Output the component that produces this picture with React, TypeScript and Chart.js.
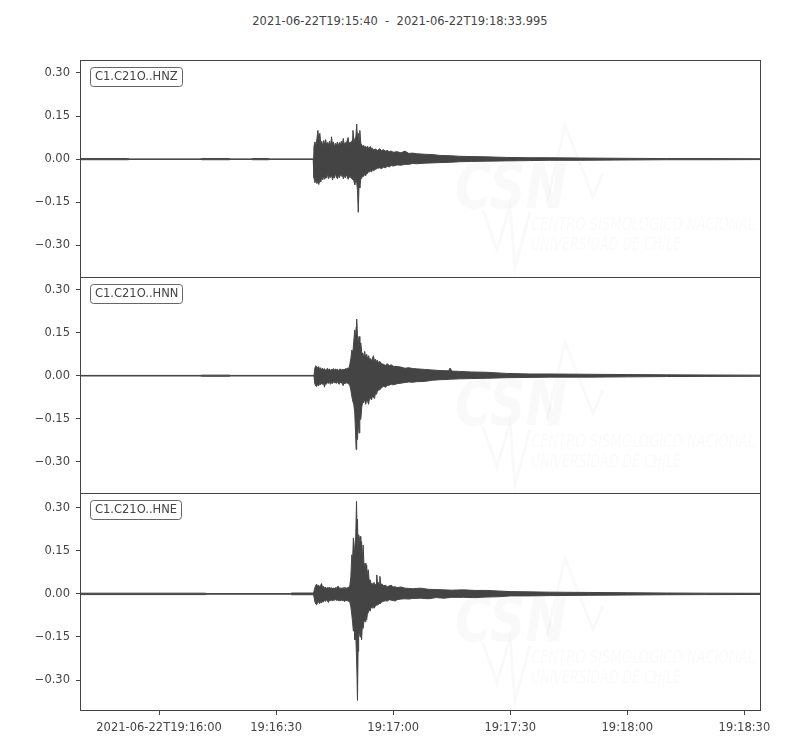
import React, { useEffect, useRef } from 'react';
import { Chart, registerables } from 'chart.js';

Chart.register(...registerables);

// ---------------- data ----------------
const TITLE = '2021-06-22T19:15:40  -  2021-06-22T19:18:33.995';
const CHANNELS = ['C1.C21O..HNZ', 'C1.C21O..HNN', 'C1.C21O..HNE'];
// time axis: seconds after 2021-06-22T19:15:40
const T_START = 0;
const T_END = 173.995;
const X_TICKS = [20, 50, 80, 110, 140, 170];
const X_TICK_LABELS = ['2021-06-22T19:16:00', '19:16:30', '19:17:00', '19:17:30', '19:18:00', '19:18:30'];
const Y_TICKS = [-0.3, -0.15, 0, 0.15, 0.3];
const Y_TICK_LABELS = ['\u22120.30', '\u22120.15', '0.00', '0.15', '0.30'];
// each trace keeps the same range, centred on its own data
const Y_MINS = [-0.41, -0.41, -0.404];
const Y_MAXS = [0.345, 0.345, 0.351];

// envelope of each trace: [time s, max, min]
const HNZ: [number, number, number][] = [
  [0, 0.002, -0.002], [12, 0.002, -0.002], [12.5, 0.0008, -0.0008], [30.5, 0.0008, -0.0008], [31, 0.002, -0.002],
  [38, 0.002, -0.002], [38.5, 0.0008, -0.0008], [43.5, 0.0008, -0.0008], [44, 0.002, -0.002], [48, 0.002, -0.002],
  [48.5, 0.0008, -0.0008], [59.5, 0.0008, -0.0008],
  [59.7, 0.045, -0.065], [59.95, 0.06, -0.082], [60.2, 0.048, -0.07], [60.45, 0.07, -0.085], [60.7, 0.1, -0.078],
  [60.95, 0.065, -0.088], [61.2, 0.09, -0.07], [61.45, 0.055, -0.08], [61.7, 0.062, -0.06], [61.95, 0.045, -0.072],
  [62.2, 0.065, -0.058], [62.45, 0.05, -0.07], [62.7, 0.068, -0.062], [62.95, 0.048, -0.066], [63.2, 0.058, -0.052],
  [63.45, 0.05, -0.068], [63.7, 0.062, -0.058], [63.95, 0.045, -0.064], [64.2, 0.078, -0.055], [64.45, 0.05, -0.072],
  [64.7, 0.06, -0.06], [64.95, 0.042, -0.066], [65.2, 0.055, -0.05], [65.45, 0.048, -0.062], [65.7, 0.06, -0.068],
  [65.95, 0.045, -0.055], [66.2, 0.058, -0.065], [66.45, 0.05, -0.052], [66.7, 0.062, -0.06], [66.95, 0.048, -0.05],
  [67.2, 0.072, -0.068], [67.45, 0.05, -0.056], [67.7, 0.058, -0.065], [67.95, 0.052, -0.055], [68.2, 0.065, -0.06],
  [68.45, 0.075, -0.07], [68.7, 0.05, -0.058], [68.95, 0.06, -0.065], [69.2, 0.055, -0.06], [69.45, 0.065, -0.07],
  [69.7, 0.1, -0.062], [69.95, 0.06, -0.078], [70.2, 0.07, -0.09], [70.45, 0.08, -0.07], [70.65, 0.122, -0.08],
  [70.85, 0.07, -0.11], [71.05, 0.09, -0.185], [71.25, 0.06, -0.09], [71.45, 0.1, -0.1], [71.7, 0.055, -0.07],
  [71.95, 0.05, -0.065], [72.2, 0.042, -0.058], [72.45, 0.048, -0.06], [72.7, 0.04, -0.05], [72.95, 0.045, -0.058],
  [73.2, 0.038, -0.048], [73.45, 0.045, -0.05], [73.7, 0.036, -0.042], [73.95, 0.042, -0.045], [74.2, 0.044, -0.04],
  [74.45, 0.035, -0.045], [74.7, 0.038, -0.036], [74.95, 0.032, -0.04], [75.5, 0.035, -0.035], [76, 0.03, -0.032],
  [76.5, 0.036, -0.03], [77, 0.03, -0.033], [77.5, 0.033, -0.028], [78, 0.028, -0.03], [78.5, 0.03, -0.025],
  [79, 0.026, -0.027], [79.5, 0.028, -0.022], [80, 0.024, -0.024], [81, 0.026, -0.02], [82, 0.022, -0.021],
  [83, 0.028, -0.018], [84, 0.02, -0.018], [85, 0.021, -0.015], [86, 0.019, -0.016], [88, 0.017, -0.014],
  [90, 0.016, -0.013], [92, 0.013, -0.012], [94.6, 0.012, -0.011], [97, 0.01, -0.009], [100, 0.009, -0.008],
  [104, 0.008, -0.007], [109, 0.006, -0.006], [115, 0.005, -0.005], [120, 0.005, -0.004], [128, 0.004, -0.004],
  [138, 0.003, -0.003], [150, 0.002, -0.002], [162, 0.002, -0.002], [174, 0.0015, -0.0015],
];

const HNN: [number, number, number][] = [
  [0, 0.001, -0.001], [30.5, 0.001, -0.001], [31, 0.002, -0.002], [38, 0.002, -0.002], [38.5, 0.001, -0.001],
  [59.7, 0.001, -0.001],
  [59.9, 0.025, -0.028], [60.15, 0.035, -0.035], [60.4, 0.03, -0.038], [60.65, 0.028, -0.03], [60.9, 0.032, -0.035],
  [61.15, 0.022, -0.028], [61.4, 0.028, -0.032], [61.65, 0.02, -0.026], [61.9, 0.026, -0.03], [62.15, 0.02, -0.028],
  [62.4, 0.025, -0.04], [62.65, 0.018, -0.026], [62.9, 0.022, -0.03], [63.15, 0.026, -0.022], [63.4, 0.019, -0.027],
  [63.65, 0.024, -0.02], [63.9, 0.018, -0.03], [64.15, 0.022, -0.024], [64.4, 0.02, -0.028], [64.65, 0.025, -0.021],
  [64.9, 0.018, -0.025], [65.15, 0.024, -0.022], [65.4, 0.02, -0.027], [65.65, 0.023, -0.02], [65.9, 0.018, -0.026],
  [66.15, 0.021, -0.03], [66.4, 0.024, -0.022], [66.65, 0.019, -0.026], [66.9, 0.022, -0.024], [67.15, 0.02, -0.035],
  [67.4, 0.023, -0.025], [67.65, 0.02, -0.028], [67.9, 0.026, -0.022], [68.15, 0.022, -0.027], [68.4, 0.028, -0.025],
  [68.65, 0.025, -0.03], [68.9, 0.04, -0.035], [69.15, 0.06, -0.05], [69.4, 0.09, -0.072], [69.65, 0.08, -0.09],
  [69.9, 0.12, -0.1], [70.15, 0.16, -0.13], [70.35, 0.13, -0.2], [70.5, 0.17, -0.258], [70.65, 0.198, -0.18],
  [70.85, 0.14, -0.223], [71.05, 0.11, -0.16], [71.25, 0.137, -0.2], [71.45, 0.1, -0.15], [71.7, 0.115, -0.153],
  [71.95, 0.08, -0.11], [72.2, 0.079, -0.09], [72.45, 0.065, -0.095], [72.7, 0.085, -0.08], [72.95, 0.06, -0.1],
  [73.2, 0.075, -0.085], [73.45, 0.058, -0.09], [73.7, 0.07, -0.1], [73.95, 0.055, -0.075], [74.2, 0.06, -0.08],
  [74.45, 0.05, -0.085], [74.7, 0.062, -0.07], [74.95, 0.07, -0.075], [75.2, 0.05, -0.08], [75.45, 0.058, -0.062],
  [75.7, 0.048, -0.065], [75.95, 0.055, -0.055], [76.2, 0.045, -0.05], [76.6, 0.05, -0.049], [77, 0.042, -0.042],
  [77.5, 0.04, -0.037], [78, 0.036, -0.04], [78.5, 0.042, -0.034], [79, 0.035, -0.033], [79.5, 0.038, -0.03],
  [80, 0.033, -0.032], [81, 0.032, -0.028], [82, 0.03, -0.026], [83, 0.026, -0.024], [84, 0.028, -0.022],
  [85, 0.025, -0.023], [86, 0.024, -0.021], [88, 0.022, -0.02], [90, 0.02, -0.016], [92, 0.018, -0.014],
  [94.2, 0.017, -0.013], [94.6, 0.027, -0.012], [95, 0.016, -0.012], [97, 0.015, -0.011], [100, 0.013, -0.01],
  [104, 0.012, -0.009], [109, 0.008, -0.007], [115, 0.006, -0.006], [120, 0.006, -0.005], [130, 0.005, -0.005],
  [140, 0.004, -0.004], [150, 0.003, -0.003], [160, 0.0025, -0.0025], [174, 0.002, -0.002],
];

const HNE: [number, number, number][] = [
  [0, 0.0025, -0.0025], [31.8, 0.0025, -0.0025], [32.3, 0.001, -0.001], [53.6, 0.001, -0.001], [54, 0.003, -0.003],
  [59.6, 0.003, -0.003],
  [59.9, 0.02, -0.025], [60.15, 0.03, -0.035], [60.4, 0.034, -0.038], [60.65, 0.025, -0.03], [60.9, 0.03, -0.028],
  [61.15, 0.026, -0.034], [61.4, 0.03, -0.026], [61.65, 0.036, -0.032], [61.9, 0.022, -0.025], [62.15, 0.026, -0.028],
  [62.4, 0.02, -0.022], [62.65, 0.024, -0.026], [62.9, 0.018, -0.02], [63.15, 0.022, -0.025], [63.4, 0.02, -0.03],
  [63.65, 0.024, -0.022], [63.9, 0.017, -0.024], [64.15, 0.022, -0.02], [64.4, 0.018, -0.025], [64.65, 0.021, -0.021],
  [64.9, 0.017, -0.023], [65.15, 0.022, -0.019], [65.4, 0.019, -0.023], [65.65, 0.024, -0.02], [65.9, 0.027, -0.024],
  [66.15, 0.019, -0.021], [66.4, 0.022, -0.025], [66.65, 0.018, -0.02], [66.9, 0.021, -0.024], [67.15, 0.019, -0.022],
  [67.4, 0.023, -0.026], [67.65, 0.018, -0.02], [67.9, 0.021, -0.024], [68.15, 0.019, -0.022], [68.4, 0.023, -0.026],
  [68.65, 0.022, -0.025], [68.9, 0.03, -0.03], [69.15, 0.06, -0.045], [69.4, 0.136, -0.073], [69.6, 0.12, -0.1],
  [69.8, 0.194, -0.13], [70, 0.15, -0.11], [70.2, 0.17, -0.16], [70.4, 0.2, -0.14], [70.6, 0.322, -0.22],
  [70.75, 0.22, -0.3], [70.85, 0.26, -0.37], [71, 0.15, -0.2], [71.15, 0.206, -0.143], [71.35, 0.16, -0.13],
  [71.5, 0.2, -0.15], [71.7, 0.14, -0.12], [71.9, 0.182, -0.16], [72.1, 0.12, -0.11], [72.3, 0.17, -0.12],
  [72.55, 0.09, -0.09], [72.8, 0.107, -0.097], [73, 0.07, -0.075], [73.2, 0.1, -0.09], [73.4, 0.06, -0.07],
  [73.6, 0.084, -0.065], [73.85, 0.045, -0.055], [74.1, 0.049, -0.06], [74.35, 0.035, -0.045], [74.6, 0.037, -0.05],
  [74.85, 0.03, -0.04], [75.1, 0.04, -0.05], [75.35, 0.03, -0.045], [75.6, 0.035, -0.035], [75.8, 0.066, -0.04],
  [76, 0.03, -0.032], [76.2, 0.04, -0.038], [76.4, 0.03, -0.03], [76.6, 0.061, -0.035], [76.85, 0.03, -0.03],
  [77.1, 0.035, -0.028], [77.5, 0.028, -0.026], [78, 0.03, -0.024], [78.5, 0.025, -0.025], [79, 0.028, -0.02],
  [79.5, 0.03, -0.022], [80, 0.024, -0.023], [80.5, 0.025, -0.025], [81, 0.022, -0.02], [82, 0.024, -0.018],
  [83, 0.02, -0.017], [84, 0.019, -0.018], [85, 0.018, -0.016], [87, 0.02, -0.015], [89, 0.016, -0.017],
  [91, 0.015, -0.013], [93, 0.014, -0.015], [95, 0.013, -0.012], [98, 0.014, -0.012], [101, 0.012, -0.013],
  [104, 0.012, -0.011], [107, 0.01, -0.01], [110, 0.008, -0.007], [115, 0.007, -0.007], [120, 0.006, -0.006],
  [130, 0.005, -0.005], [140, 0.004, -0.004], [150, 0.003, -0.003], [160, 0.0025, -0.0025], [174, 0.002, -0.002],
];

const SERIES = [
  { label: CHANNELS[0], rows: HNZ },
  { label: CHANNELS[1], rows: HNN },
  { label: CHANNELS[2], rows: HNE },
];

// ---------------- style ----------------
const FONT = "'DejaVu Sans', sans-serif";
const WAVE = '#444444';
const AXIS = '#444444';
const TEXT = '#444444';
const PANEL_TOPS = [60, 277, 493];
const PANEL_BOTTOMS = [277, 493, 710];
const PAD = 20;

const decorPlugin = {
  id: 'panelDecor',
  beforeDatasetsDraw(chart: any) {
    const { ctx, chartArea } = chart;
    const { left, top } = chartArea;
    ctx.save();
    ctx.beginPath();
    ctx.rect(chartArea.left, chartArea.top, chartArea.right - chartArea.left, chartArea.bottom - chartArea.top);
    ctx.clip();
    const faint = 'rgba(0,0,0,0.022)';
    ctx.fillStyle = faint;
    ctx.strokeStyle = faint;
    const drawFit = (txt: string, x: number, y: number, w: number) => {
      const m = ctx.measureText(txt).width;
      ctx.save();
      ctx.translate(x, y);
      ctx.scale(w / m, 1);
      ctx.fillText(txt, 0, 0);
      ctx.restore();
    };
    ctx.textBaseline = 'alphabetic';
    ctx.font = `italic bold 62px ${FONT}`;
    drawFit('CSN', left + 374, top + 148, 112);
    ctx.font = `italic 18px ${FONT}`;
    drawFit('CENTRO SISMOLÓGICO NACIONAL', left + 450, top + 170, 224);
    drawFit('UNIVERSIDAD DE CHILE', left + 450, top + 190, 150);
    ctx.lineWidth = 3;
    ctx.beginPath();
    const p1 = [[466, 143], [484, 65], [512, 137], [522, 113]];
    p1.forEach(([x, y], i) => (i ? ctx.lineTo(left + x, top + y) : ctx.moveTo(left + x, top + y)));
    ctx.stroke();
    ctx.beginPath();
    const p2 = [[402, 150], [416, 190], [429, 145], [434, 208], [449, 152]];
    p2.forEach(([x, y], i) => (i ? ctx.lineTo(left + x, top + y) : ctx.moveTo(left + x, top + y)));
    ctx.stroke();
    ctx.restore();
  },
  afterDraw(chart: any, _args: any, opts: any) {
    const { ctx, chartArea } = chart;
    const { left, top, right, bottom } = chartArea;
    const L = Math.round(left);
    const T = Math.round(top);
    const R = Math.round(right);
    const B = Math.round(bottom);
    ctx.save();
    ctx.strokeStyle = AXIS;
    ctx.lineWidth = 1;
    ctx.strokeRect(L - 0.5, T + 0.5, R - L + 1, B - T);
    // channel label box
    ctx.font = `11.5px ${FONT}`;
    const w = ctx.measureText(opts.label).width;
    const bx = L + 9.5;
    const by = T + 7.5;
    const bw = Math.round(w + 9);
    const bh = 19;
    ctx.beginPath();
    ctx.roundRect(bx, by, bw, bh, 3);
    ctx.fillStyle = '#ffffff';
    ctx.fill();
    ctx.strokeStyle = '#666666';
    ctx.stroke();
    ctx.fillStyle = TEXT;
    ctx.textBaseline = 'middle';
    ctx.textAlign = 'left';
    ctx.fillText(opts.label, bx + 4.5, by + bh / 2 + 0.5);
    ctx.restore();
  },
};

function Panel({ idx }: { idx: number }) {
  const ref = useRef<HTMLCanvasElement>(null);
  const isLast = idx === SERIES.length - 1;
  const top = PANEL_TOPS[idx] - PAD;
  const height = PANEL_BOTTOMS[idx] - PANEL_TOPS[idx] + PAD + (isLast ? 40 : PAD);

  useEffect(() => {
    const s = SERIES[idx];
    const chart = new Chart(ref.current as HTMLCanvasElement, {
      type: 'line',
      data: {
        datasets: [
          {
            data: s.rows.map((r) => ({ x: r[0], y: r[1] })),
            borderColor: WAVE,
            borderWidth: 1,
            pointRadius: 0,
            fill: false,
            tension: 0,
          },
          {
            data: s.rows.map((r) => ({ x: r[0], y: r[2] })),
            borderColor: WAVE,
            borderWidth: 1,
            pointRadius: 0,
            fill: '-1',
            backgroundColor: WAVE,
            tension: 0,
          },
        ],
      },
      options: {
        responsive: false,
        animation: false,
        events: [],
        layout: { padding: { left: 0, right: 40, top: PAD, bottom: 0 } },
        plugins: {
          legend: { display: false },
          tooltip: { enabled: false },
          title: { display: false },
          panelDecor: { label: s.label },
        } as any,
        scales: {
          x: {
            type: 'linear',
            min: T_START,
            max: T_END,
            afterBuildTicks: (sc: any) => {
              sc.ticks = X_TICKS.map((v) => ({ value: v }));
            },
            afterFit: (sc: any) => {
              sc.height = isLast ? 40 : PAD;
            },
            border: { display: false },
            grid: { display: isLast, drawOnChartArea: false, drawTicks: true, tickLength: 5, color: AXIS, lineWidth: 1 },
            ticks: {
              display: isLast,
              autoSkip: false,
              maxRotation: 0,
              minRotation: 0,
              padding: 6,
              color: TEXT,
              font: { family: FONT, size: 11.5 },
              callback: (_v: any, i: number) => X_TICK_LABELS[i],
            },
          },
          y: {
            type: 'linear',
            min: Y_MINS[idx],
            max: Y_MAXS[idx],
            afterBuildTicks: (sc: any) => {
              sc.ticks = Y_TICKS.map((v) => ({ value: v }));
            },
            afterFit: (sc: any) => {
              sc.width = 81;
            },
            border: { display: false },
            grid: { drawOnChartArea: false, drawTicks: true, tickLength: 5, color: AXIS, lineWidth: 1 },
            ticks: {
              padding: 6,
              color: TEXT,
              font: { family: FONT, size: 11.5 },
              callback: (_v: any, i: number) => Y_TICK_LABELS[i],
            },
          },
        },
      } as any,
      plugins: [decorPlugin],
    });
    return () => chart.destroy();
  }, [idx]);

  return (
    <canvas
      ref={ref}
      width={800}
      height={height}
      style={{ position: 'absolute', left: 0, top, width: 800, height, display: 'block' }}
    />
  );
}

export default function App() {
  return (
    <div style={{ position: 'absolute', left: 0, top: 0, width: 800, height: 750, background: '#ffffff', overflow: 'hidden' }}>
      <div
        style={{
          position: 'absolute',
          left: 0,
          top: 14,
          width: 800,
          textAlign: 'center',
          font: `11.5px ${FONT}`,
          color: TEXT,
          whiteSpace: 'pre',
        }}
      >
        {TITLE}
      </div>
      {SERIES.map((_, i) => (
        <Panel key={i} idx={i} />
      ))}
    </div>
  );
}
